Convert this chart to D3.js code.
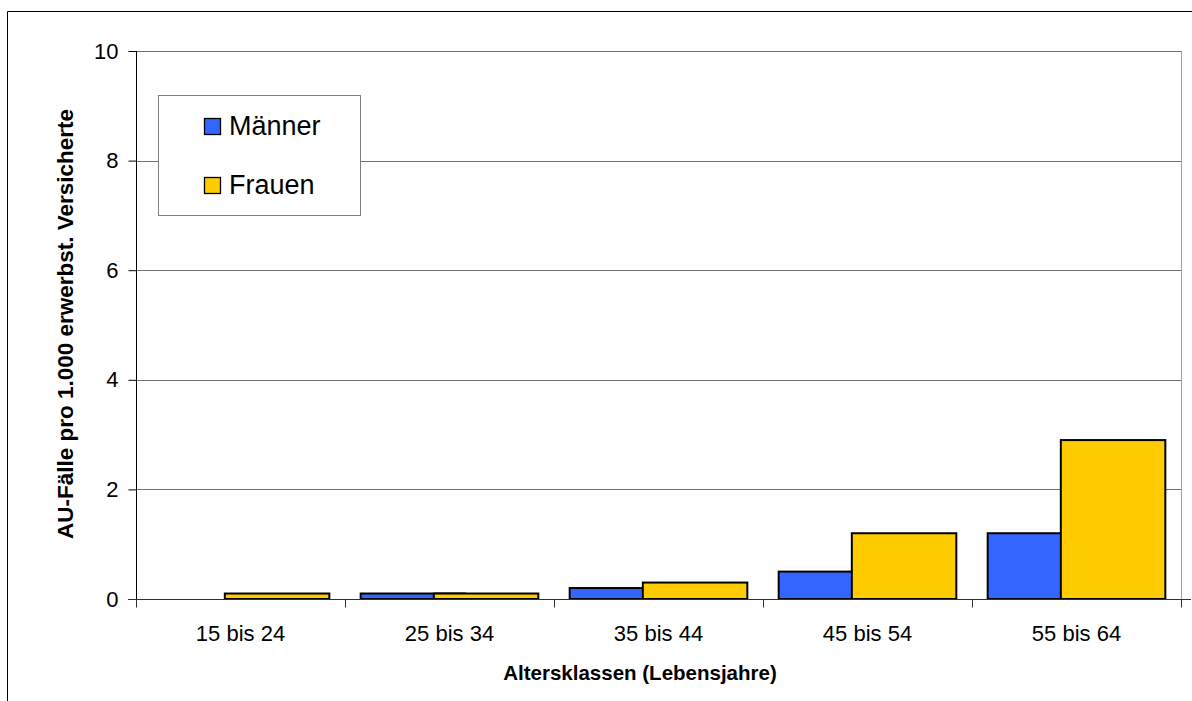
<!DOCTYPE html>
<html>
<head>
<meta charset="utf-8">
<script src="https://cdn.jsdelivr.net/npm/d3@7"></script>
<style>
  html, body { margin: 0; padding: 0; background: #fff; }
  svg { display: block; font-family: Arial, "Liberation Sans", sans-serif; }
</style>
</head>
<body>
<svg id="chart" width="1192" height="701"></svg>
<script>
const categories = ["15 bis 24", "25 bis 34", "35 bis 44", "45 bis 54", "55 bis 64"];
const seriesNames = ["Männer", "Frauen"];
const maenner = [0, 0.1, 0.2, 0.5, 1.2];
const frauen = [0.1, 0.1, 0.3, 1.2, 2.9];
const yTicks = [0, 2, 4, 6, 8, 10];
const colors = ["#3366FF", "#FFCC00"];
const yTitle = "AU-Fälle pro 1.000 erwerbst. Versicherte";
const xTitle = "Altersklassen (Lebensjahre)";

const svg = d3.select("#chart");
const L = 136, R = 1181, T = 51, B = 599;

// outer border (top & left visible)
svg.append("line").attr("x1", 7.5).attr("y1", 11.5).attr("x2", 1192).attr("y2", 11.5)
  .attr("stroke", "#000").attr("stroke-width", 1);
svg.append("line").attr("x1", 7.5).attr("y1", 11.5).attr("x2", 7.5).attr("y2", 701)
  .attr("stroke", "#000").attr("stroke-width", 1);

const x = d3.scaleBand().domain(categories).range([L, R]).padding(0);
const y = d3.scaleLinear().domain([0, 10]).range([B, T]);

// gridlines
svg.append("g").selectAll("line").data(yTicks.filter(d => d > 0)).join("line")
  .attr("x1", L).attr("x2", R)
  .attr("y1", d => Math.round(y(d)) + 0.5).attr("y2", d => Math.round(y(d)) + 0.5)
  .attr("stroke", "#707070").attr("stroke-width", 1);
// right plot border
svg.append("line").attr("x1", R + 0.5).attr("x2", R + 0.5).attr("y1", T).attr("y2", B)
  .attr("stroke", "#a0a0a0").attr("stroke-width", 1);

// bars: Excel-style overlap
const bw = x.bandwidth();
const barW = bw * 0.5;
const overlap = barW * 0.30;
const total = barW * 2 - overlap;
const off = (bw - total) / 2;

const series = [maenner, frauen];
series.forEach((vals, si) => {
  svg.append("g").selectAll("rect").data(categories).join("rect")
    .attr("x", (c) => x(c) + off + si * (barW - overlap))
    .attr("width", barW)
    .attr("y", (c, i) => y(vals[i]))
    .attr("height", (c, i) => y(0) - y(vals[i]))
    .attr("fill", colors[si])
    .attr("stroke", "#000")
    .attr("stroke-width", 2)
    .style("display", (c, i) => vals[i] > 0 ? null : "none");
});

// Y axis
const yAxis = d3.axisLeft(y).tickValues(yTicks).tickSize(8).tickPadding(10).tickFormat(d3.format("d"));
const gy = svg.append("g").attr("transform", `translate(${L + 0.5},0)`).call(yAxis);
gy.select(".domain").attr("stroke", "#000").attr("d", `M0,${T}V${B}`);
gy.selectAll(".tick line").attr("stroke", "#000");
gy.selectAll(".tick text").attr("font-size", 22).attr("fill", "#000")
  .attr("font-family", "Arial, 'Liberation Sans', sans-serif");

// X axis (ticks at category boundaries)
const gx = svg.append("g").attr("transform", `translate(0,${B + 0.5})`);
gx.append("line").attr("x1", L - 8).attr("x2", R + 10).attr("y1", 0).attr("y2", 0)
  .attr("stroke", "#303030");
const bounds = categories.map(c => x(c)).concat([R]);
gx.selectAll("line.tk").data(bounds).join("line").attr("class", "tk")
  .attr("x1", d => Math.round(d) + 0.5).attr("x2", d => Math.round(d) + 0.5)
  .attr("y1", 0).attr("y2", 8).attr("stroke", "#303030");
gx.selectAll("text").data(categories).join("text")
  .attr("x", c => x(c) + bw / 2).attr("y", 41)
  .attr("text-anchor", "middle").attr("font-size", 22).attr("fill", "#000")
  .text(c => c);

// axis titles
svg.append("text").attr("x", 640).attr("y", 680).attr("text-anchor", "middle")
  .attr("font-size", 20.5).attr("font-weight", "bold").text(xTitle);
svg.append("text").attr("transform", `translate(73,324) rotate(-90)`)
  .attr("text-anchor", "middle").attr("font-size", 22.5).attr("font-weight", "bold").text(yTitle);

// legend
const lg = svg.append("g");
lg.append("rect").attr("x", 158.5).attr("y", 95.5).attr("width", 202).attr("height", 120)
  .attr("fill", "#fff").attr("stroke", "#808080").attr("stroke-width", 1);
const legendY = [118, 177];
seriesNames.forEach((n, i) => {
  lg.append("rect").attr("x", 204.5).attr("y", legendY[i] + 0.5).attr("width", 16).attr("height", 16)
    .attr("fill", colors[i]).attr("stroke", "#000").attr("stroke-width", 1.3);
  lg.append("text").attr("x", 229).attr("y", legendY[i] + 17)
    .attr("font-size", 27).attr("fill", "#000").text(n);
});
</script>
</body>
</html>
